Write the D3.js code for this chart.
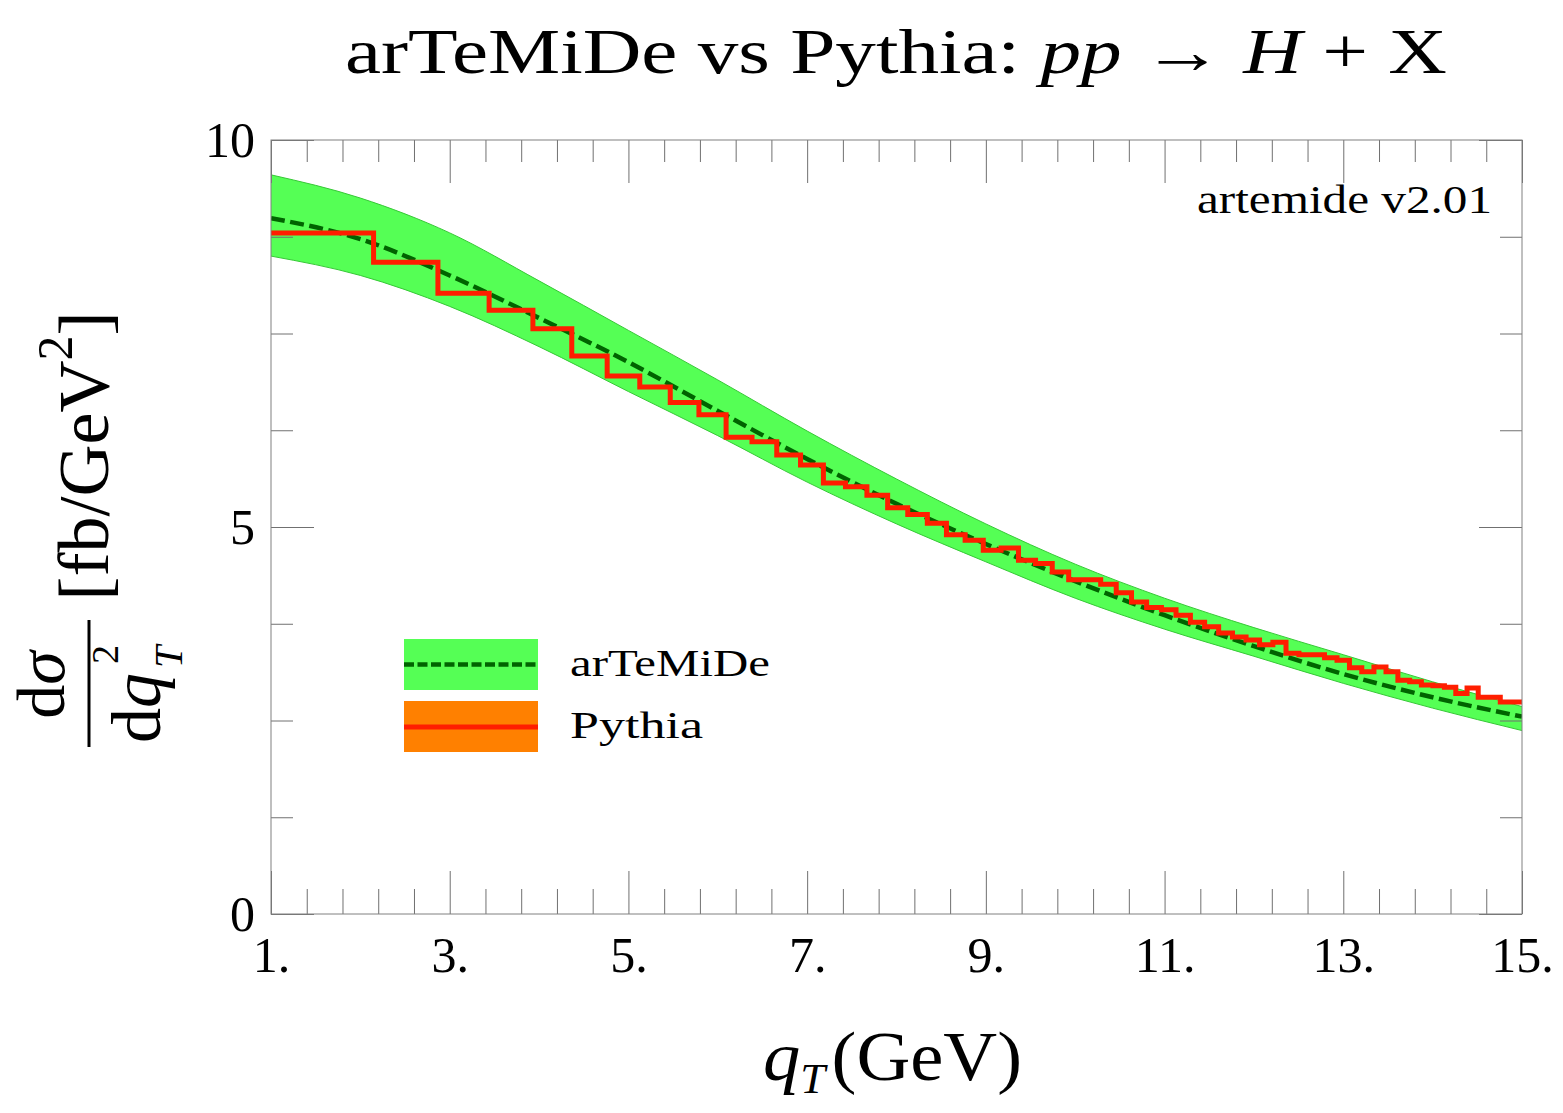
<!DOCTYPE html>
<html>
<head>
<meta charset="utf-8">
<script src="https://cdn.jsdelivr.net/npm/d3@7.9.0/dist/d3.min.js"></script>
<style>
  body { margin: 0; background: #fff; }
  svg text { font-family: "Liberation Serif", "DejaVu Serif", serif; fill: #000; white-space: pre; }
</style>
</head>
<body>
<svg id="chart" width="1563" height="1113"></svg>
<script>
// arTeMiDe prediction, sampled at integer qT
const qNodes = [1, 2, 3, 4, 5, 6, 7, 8, 9, 10, 11, 12, 13, 14, 15];
const centralValues = [8.99, 8.72, 8.25, 7.70, 7.13, 6.50, 5.88, 5.30, 4.78, 4.30, 3.86, 3.46, 3.10, 2.80, 2.55];
const upperValues = [9.55, 9.25, 8.80, 8.18, 7.54, 6.90, 6.24, 5.62, 5.04, 4.52, 4.08, 3.70, 3.35, 3.00, 2.68];
const lowerValues = [8.50, 8.25, 7.85, 7.33, 6.75, 6.18, 5.58, 5.04, 4.55, 4.08, 3.68, 3.33, 2.98, 2.66, 2.37];

// Pythia histogram (bin edges in qT, one value per bin)
const pythiaEdges = [1.000, 2.148, 2.868, 3.441, 3.931, 4.366, 4.762, 5.127, 5.468, 5.789,
  6.093, 6.383, 6.660, 6.926, 7.182, 7.429, 7.669, 7.901, 8.126, 8.345,
  8.559, 8.768, 8.971, 9.170, 9.365, 9.556, 9.743, 9.927, 10.107, 10.285,
  10.459, 10.630, 10.799, 10.965, 11.128, 11.289, 11.448, 11.605, 11.760, 11.912,
  12.063, 12.212, 12.359, 12.504, 12.648, 12.790, 12.930, 13.069, 13.207, 13.343,
  13.478, 13.611, 13.743, 13.874, 14.003, 14.132, 14.259, 14.385, 14.510, 14.634,
  14.757, 14.879, 15.000];
const pythiaValues = [8.80, 8.42, 8.02, 7.80, 7.56, 7.21, 6.95, 6.81, 6.61, 6.45,
  6.16, 6.10, 5.93, 5.80, 5.57, 5.52, 5.41, 5.25, 5.16, 5.05,
  4.90, 4.83, 4.70, 4.73, 4.57, 4.53, 4.42, 4.32, 4.32, 4.26,
  4.15, 4.03, 3.96, 3.93, 3.86, 3.77, 3.71, 3.63, 3.58, 3.54,
  3.48, 3.51, 3.37, 3.35, 3.35, 3.31, 3.28, 3.18, 3.13, 3.19,
  3.13, 3.02, 3.00, 2.96, 2.95, 2.93, 2.85, 2.92, 2.80, 2.80,
  2.74, 2.74];

const xTicks = [1, 3, 5, 7, 9, 11, 13, 15];
const xTickLabels = ['1.', '3.', '5.', '7.', '9.', '11.', '13.', '15.'];
const yTicks = [0, 5, 10];
const yTickLabels = ['0', '5', '10'];

const legendLabels = ['arTeMiDe', 'Pythia'];

let svg = d3.select('#chart');

let x = d3.scaleLinear().domain([1, 15]).range([271, 1522]);
let y = d3.scaleLinear().domain([0, 10]).range([914, 140]);

svg.append('defs').append('clipPath').attr('id', 'plotClip')
  .append('rect')
  .attr('x', x(1)).attr('y', y(10))
  .attr('width', x(15) - x(1)).attr('height', y(0) - y(10));

let plot = svg.append('g').attr('clip-path', 'url(#plotClip)');

// uncertainty band
let band = d3.area()
  .x((d, i) => x(qNodes[i]))
  .y0((d, i) => y(lowerValues[i]))
  .y1((d, i) => y(upperValues[i]))
  .curve(d3.curveMonotoneX);
plot.append('path').datum(qNodes).attr('d', band).attr('fill', '#55ff55');

let curveOf = (vals) => d3.line()
  .x((d, i) => x(qNodes[i]))
  .y((d, i) => y(vals[i]))
  .curve(d3.curveMonotoneX)(qNodes);

[upperValues, lowerValues].forEach((vals) => {
  plot.append('path').attr('d', curveOf(vals))
    .attr('fill', 'none').attr('stroke', '#36c836').attr('stroke-width', 1);
});

plot.append('path').attr('d', curveOf(centralValues))
  .attr('fill', 'none')
  .attr('stroke', '#006400')
  .attr('stroke-width', 4.5)
  .attr('stroke-dasharray', '14,5.5');

// pythia steps
let stepPoints = pythiaValues.map((v, i) => [pythiaEdges[i], v]);
stepPoints.push([pythiaEdges[pythiaEdges.length - 1], pythiaValues[pythiaValues.length - 1]]);
let stepLine = d3.line().x((d) => x(d[0])).y((d) => y(d[1])).curve(d3.curveStepAfter);
svg.append('path').attr('d', stepLine(stepPoints))
  .attr('fill', 'none')
  .attr('stroke', '#ff1e00')
  .attr('stroke-width', 5)
  .attr('stroke-linejoin', 'miter');

// axes: ticks point inward on every side
let xMinor = d3.range(0, 36).filter((i) => i % 5 !== 0).map((i) => 1 + i * 0.4);
let yMinor = d3.range(0, 9).filter((i) => i % 4 !== 0).map((i) => i * 1.25);

function styleAxis(g) {
  g.select('.domain').remove();
  g.attr('color', '#707070').attr('font-family', null).attr('font-size', 50);
  g.selectAll('line').attr('stroke-width', 1);
}

svg.append('g').attr('transform', `translate(0,${y(0)})`)
  .call(d3.axisBottom(x).tickValues(xTicks).tickFormat((d, i) => xTickLabels[i])
    .tickSize(-43).tickSizeOuter(0).tickPadding(22))
  .call(styleAxis);
svg.append('g').attr('transform', `translate(0,${y(0)})`)
  .call(d3.axisBottom(x).tickValues(xMinor).tickFormat('').tickSize(-25).tickSizeOuter(0))
  .call(styleAxis);
svg.append('g').attr('transform', `translate(0,${y(10)})`)
  .call(d3.axisTop(x).tickValues(xTicks).tickFormat('').tickSize(-43).tickSizeOuter(0))
  .call(styleAxis);
svg.append('g').attr('transform', `translate(0,${y(10)})`)
  .call(d3.axisTop(x).tickValues(xMinor).tickFormat('').tickSize(-22).tickSizeOuter(0))
  .call(styleAxis);

svg.append('g').attr('transform', `translate(${x(1)},0)`)
  .call(d3.axisLeft(y).tickValues(yTicks).tickFormat((d, i) => yTickLabels[i])
    .tickSize(-43).tickSizeOuter(0).tickPadding(16))
  .call(styleAxis);
svg.append('g').attr('transform', `translate(${x(1)},0)`)
  .call(d3.axisLeft(y).tickValues(yMinor).tickFormat('').tickSize(-22).tickSizeOuter(0))
  .call(styleAxis);
svg.append('g').attr('transform', `translate(${x(15)},0)`)
  .call(d3.axisRight(y).tickValues(yTicks).tickFormat('').tickSize(-43).tickSizeOuter(0))
  .call(styleAxis);
svg.append('g').attr('transform', `translate(${x(15)},0)`)
  .call(d3.axisRight(y).tickValues(yMinor).tickFormat('').tickSize(-22).tickSizeOuter(0))
  .call(styleAxis);

svg.append('rect')
  .attr('x', x(1)).attr('y', y(10))
  .attr('width', x(15) - x(1)).attr('height', y(0) - y(10))
  .attr('fill', 'none').attr('stroke', '#808080').attr('stroke-width', 1);

// title
let title = svg.append('text')
  .attr('x', 896).attr('y', 73)
  .attr('text-anchor', 'middle')
  .attr('font-size', 64)
  .attr('textLength', 1102).attr('lengthAdjust', 'spacingAndGlyphs');
title.append('tspan').text('arTeMiDe vs Pythia: ');
title.append('tspan').attr('font-style', 'italic').text('pp');
title.append('tspan').text(' \u2192 ');
title.append('tspan').attr('font-style', 'italic').text('H');
title.append('tspan').text(' + X');

svg.append('text')
  .attr('x', 1197).attr('y', 213)
  .attr('font-size', 40)
  .attr('textLength', 295).attr('lengthAdjust', 'spacingAndGlyphs')
  .text('artemide v2.01');

// x label
let xLabel = svg.append('text')
  .attr('x', 763).attr('y', 1080)
  .attr('font-size', 70)
  .attr('textLength', 259).attr('lengthAdjust', 'spacingAndGlyphs');
xLabel.append('tspan').attr('font-style', 'italic').text('q');
xLabel.append('tspan').attr('font-style', 'italic').attr('font-size', 42).attr('dy', 13).text('T');
xLabel.append('tspan').attr('dy', -13).attr('dx', 6).text('(GeV)');

// y label, rotated
let yLabel = svg.append('g').attr('transform', 'rotate(-90)');
let units = yLabel.append('text')
  .attr('x', -456).attr('y', 108)
  .attr('text-anchor', 'middle')
  .attr('font-size', 72);
units.append('tspan').text('[fb/GeV');
units.append('tspan').attr('font-size', 50).attr('dy', -36).text('2');
units.append('tspan').attr('dy', 36).text(']');

yLabel.append('line')
  .attr('x1', -747).attr('x2', -620)
  .attr('y1', 89).attr('y2', 89)
  .attr('stroke', '#000').attr('stroke-width', 3);

let numer = yLabel.append('text')
  .attr('x', -685).attr('y', 64)
  .attr('text-anchor', 'middle')
  .attr('font-size', 68);
numer.append('tspan').text('d');
numer.append('tspan').attr('font-style', 'italic').text('\u03c3');

let denom = yLabel.append('text')
  .attr('x', -743).attr('y', 160)
  .attr('font-size', 70);
denom.append('tspan').text('d');
denom.append('tspan').attr('font-style', 'italic').text('q');
yLabel.append('text')
  .attr('x', -664).attr('y', 118)
  .attr('font-size', 38)
  .text('2');
yLabel.append('text')
  .attr('x', -668).attr('y', 182)
  .attr('font-size', 40).attr('font-style', 'italic')
  .text('T');

// legend
let legend = svg.append('g');
legend.append('rect').attr('x', 404).attr('y', 639).attr('width', 134).attr('height', 51).attr('fill', '#55ff55');
legend.append('line').attr('x1', 404).attr('x2', 538).attr('y1', 664.5).attr('y2', 664.5)
  .attr('stroke', '#006400').attr('stroke-width', 4.5).attr('stroke-dasharray', '10,3.5');
legend.append('rect').attr('x', 404).attr('y', 701).attr('width', 134).attr('height', 51).attr('fill', '#ff8000');
legend.append('line').attr('x1', 404).attr('x2', 538).attr('y1', 727).attr('y2', 727)
  .attr('stroke', '#ff1e00').attr('stroke-width', 5);

legend.append('text').attr('x', 570).attr('y', 676).attr('font-size', 38)
  .attr('textLength', 200).attr('lengthAdjust', 'spacingAndGlyphs').text(legendLabels[0]);
legend.append('text').attr('x', 570).attr('y', 738).attr('font-size', 38)
  .attr('textLength', 133).attr('lengthAdjust', 'spacingAndGlyphs').text(legendLabels[1]);
</script>
</body>
</html>
